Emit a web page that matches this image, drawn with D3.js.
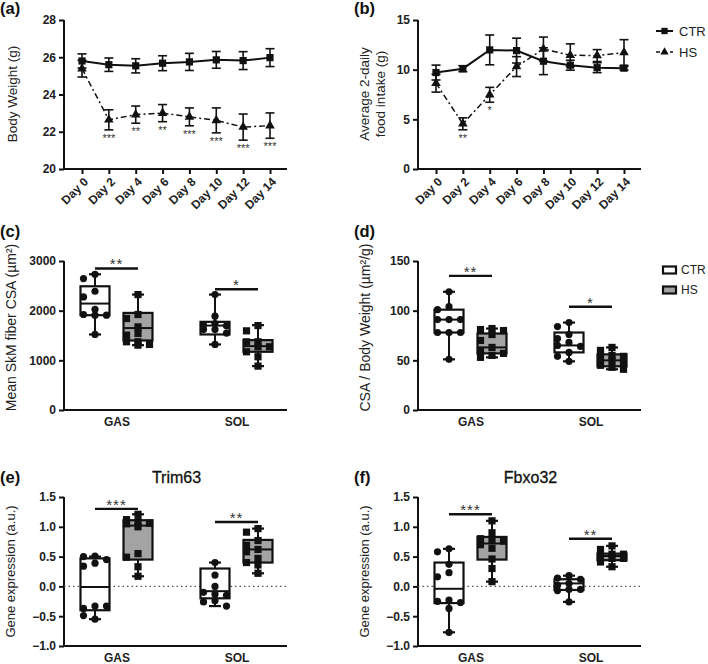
<!DOCTYPE html>
<html><head><meta charset="utf-8">
<script src="https://cdn.jsdelivr.net/npm/d3@7"></script>
<style>
body{margin:0;background:#fff}
svg{display:block}
text{font-family:"Liberation Sans",Arial,sans-serif}
</style>
</head><body>
<svg id="chart" width="708" height="664"></svg>
<script>
// ---------------- DATA ----------------
const days = ["Day 0","Day 2","Day 4","Day 6","Day 8","Day 10","Day 12","Day 14"];
const groups = ["CTR","HS"];
const muscles = ["GAS","SOL"];

// (a) Body weight (g), mean ± SEM
const bwCTR    = [25.80, 25.60, 25.54, 25.68, 25.75, 25.86, 25.82, 25.98];
const bwCTRerr = [0.38, 0.36, 0.38, 0.40, 0.46, 0.45, 0.48, 0.48];
const bwHS     = [25.39, 22.64, 22.92, 23.00, 22.80, 22.61, 22.25, 22.33];
const bwHSerr  = [0.45, 0.54, 0.46, 0.46, 0.48, 0.67, 0.70, 0.68];
const bwStars  = ["", "***", "**", "**", "***", "***", "***", "***"];
const bwTicks  = [20, 22, 24, 26, 28];

// (b) Average 2-daily food intake (g)
const fiCTR    = [9.71, 10.10, 11.99, 11.92, 10.85, 10.45, 10.20, 10.15];
const fiCTRerr = [0.75, 0.30, 1.50, 1.25, 1.35, 0.50, 0.50, 0.20];
const fiHS     = [8.64, 4.55, 7.47, 10.31, 12.08, 11.45, 11.42, 11.72];
const fiHSerr  = [0.90, 0.60, 0.75, 1.00, 1.20, 1.15, 0.60, 1.30];
const fiStars  = ["", "**", "*", "", "", "", "", ""];
const fiTicks  = [0, 5, 10, 15];

// (c) Mean SkM fiber CSA (µm²): individual points and box stats [min, q1, median, q3, max]
const csaGasCTR = [2733, 2646, 2391, 2277, 2029, 1923, 1909, 1909, 1521];
const csaGasHS  = [2324, 1923, 1842, 1674, 1541, 1507, 1374, 1374, 1320, 1306];
const csaSolCTR = [2324, 1889, 1742, 1708, 1694, 1620, 1620, 1548, 1320];
const csaSolHS  = [1700, 1594, 1373, 1373, 1273, 1273, 1172, 1072, 884];
const csaBoxGasCTR = [1521, 1909, 2143, 2491, 2733];
const csaBoxGasHS  = [1306, 1400, 1650, 1955, 2324];
const csaBoxSolCTR = [1320, 1521, 1700, 1775, 2324];
const csaBoxSolHS  = [884, 1172, 1286, 1407, 1708];
const csaSig   = [2850, 2430];
const csaSigLabels = ["**", "*"];
const csaTicks = [0, 1000, 2000, 3000];

// (d) CSA / Body weight (µm²/g)
const cbwGasCTR = [119, 104, 101, 91, 91, 91, 78, 78, 78, 51];
const cbwGasHS  = [82, 81, 80, 76, 70, 63, 60, 57, 55, 53];
const cbwSolCTR = [88, 84, 76, 72, 68, 65, 64, 58, 54, 49];
const cbwSolHS  = [63, 60, 55, 54, 52, 50, 46, 45, 43, 41];
const cbwBoxGasCTR = [51, 78, 91, 101, 119];
const cbwBoxGasHS  = [53, 57, 63, 77, 82];
const cbwBoxSolCTR = [49, 58, 65, 78, 88];
const cbwBoxSolHS  = [41, 44, 50, 56, 63];
const cbwSig   = [135, 104];
const cbwSigLabels = ["**", "*"];
const cbwTicks = [0, 50, 100, 150];

// (e) Trim63 gene expression (a.u.)
const trimGasCTR = [0.51, 0.50, 0.45, 0.39, 0.34, -0.33, -0.37, -0.33, -0.55, -0.49];
const trimGasHS  = [1.21, 1.12, 1.09, 1.06, 1.05, 1.00, 0.55, 0.49, 0.33, 0.17];
const trimSolCTR = [0.40, 0.19, 0.00, -0.10, -0.13, -0.15, -0.24, -0.26, -0.33];
const trimSolHS  = [0.97, 0.91, 0.77, 0.69, 0.62, 0.58, 0.47, 0.40, 0.36, 0.22];
const trimBoxGasCTR = [-0.55, -0.40, -0.01, 0.47, 0.50];
const trimBoxGasHS  = [0.17, 0.45, 1.02, 1.11, 1.21];
const trimBoxSolCTR = [-0.33, -0.20, -0.08, 0.30, 0.40];
const trimBoxSolHS  = [0.22, 0.40, 0.62, 0.78, 0.97];
const trimSig   = [1.30, 1.08];
const trimSigLabels = ["***", "**"];

// (f) Fbxo32 gene expression (a.u.)
const fbxGasCTR = [0.63, 0.58, 0.37, 0.23, 0.16, -0.23, -0.25, -0.27, -0.37, -0.77];
const fbxGasHS  = [1.10, 0.90, 0.80, 0.77, 0.76, 0.70, 0.64, 0.46, 0.30, 0.08];
const fbxSolCTR = [0.18, 0.14, 0.12, 0.05, 0.02, -0.05, -0.05, -0.07, -0.26];
const fbxSolHS  = [0.68, 0.62, 0.54, 0.54, 0.50, 0.47, 0.47, 0.41, 0.33];
const fbxBoxGasCTR = [-0.77, -0.28, -0.04, 0.40, 0.63];
const fbxBoxGasHS  = [0.08, 0.45, 0.72, 0.83, 1.10];
const fbxBoxSolCTR = [-0.26, -0.06, 0.05, 0.12, 0.18];
const fbxBoxSolHS  = [0.33, 0.44, 0.51, 0.55, 0.68];
const fbxSig   = [1.21, 0.80];
const fbxSigLabels = ["***", "**"];
const geneTicks = [-1.0, -0.5, 0.0, 0.5, 1.0, 1.5];

// ---------------- DRAWING ----------------
const svg = d3.select("#chart");
const PL = 64, PR = 287;           // plot left/right (panel-local)
const HS_FILL = "#a3a3a3";

function styleAxis(a) {
  a.select(".domain").attr("stroke", "#111").attr("stroke-width", 2);
  a.selectAll(".tick line").attr("stroke", "#111").attr("stroke-width", 2);
  a.selectAll(".tick text").attr("font-size", 12).attr("font-weight", "bold").attr("fill", "#222");
}

function yAxis(g, y, ticks, fmt) {
  const a = g.append("g").attr("transform", `translate(${PL},0)`)
    .call(d3.axisLeft(y).tickValues(ticks).tickSize(5).tickSizeOuter(0).tickFormat(fmt).tickPadding(3));
  styleAxis(a);
  a.select(".domain").attr("d", `M0,${y.range()[0] + 1}V${y.range()[1]}`);
}

function baseline(g, yPos) {
  g.append("line").attr("x1", PL - 1).attr("x2", PR).attr("y1", yPos).attr("y2", yPos)
    .attr("stroke", "#111").attr("stroke-width", 2);
}

function panelLetter(g, txt, y) {
  g.append("text").attr("x", 0).attr("y", y).attr("font-size", 16.5).attr("font-weight", "bold")
    .attr("fill", "#111").text(txt);
}

function yLabel(g, lines, cx, cy, size) {
  const t = g.append("text").attr("transform", `translate(${cx},${cy}) rotate(-90)`)
    .attr("text-anchor", "middle").attr("font-size", size).attr("fill", "#222");
  lines.forEach((l, i) => {
    t.append("tspan").attr("x", 0).attr("dy", i === 0 ? 0 : "1.15em").text(l);
  });
}

// ---------- line panels ----------
function linePanel(ox, cfg) {
  const g = svg.append("g").attr("transform", `translate(${ox},0)`);
  const y = d3.scaleLinear().domain(cfg.domain).range([169, 20]);
  const x = d3.scalePoint().domain(days).range([82, 270]);

  panelLetter(g, cfg.letter, 14);
  yAxis(g, y, cfg.ticks, d3.format("d"));
  baseline(g, 169);
  const xa = g.append("g").attr("transform", "translate(0,169)")
    .call(d3.axisBottom(x).tickSize(5).tickSizeOuter(0));
  styleAxis(xa);
  xa.select(".domain").remove();
  xa.selectAll(".tick text").attr("text-anchor", "end")
    .attr("transform", "rotate(-45)").attr("x", -5).attr("y", 10).attr("dy", "0.35em");

  yLabel(g, cfg.ylabel, cfg.ylabelX, 94, 13.5);

  const series = [
    {v: cfg.ctr, e: cfg.ctrErr, dash: null, w: 2, sym: d3.symbolSquare, size: 52},
    {v: cfg.hs, e: cfg.hsErr, dash: "6,3,2,3", w: 1.5, sym: d3.symbolTriangle, size: 40}
  ];
  [series[1], series[0]].forEach(s => {
    const line = d3.line().x((d, i) => x(days[i])).y(d => y(d));
    g.append("path").attr("d", line(s.v)).attr("fill", "none").attr("stroke", "#111")
      .attr("stroke-width", s.w).attr("stroke-dasharray", s.dash);
    s.v.forEach((v, i) => {
      const cx = x(days[i]);
      const top = y(v + s.e[i]), bot = y(v - s.e[i]);
      g.append("line").attr("x1", cx).attr("x2", cx).attr("y1", top).attr("y2", bot)
        .attr("stroke", "#111").attr("stroke-width", 1.6);
      [top, bot].forEach(yy => g.append("line").attr("x1", cx - 4.5).attr("x2", cx + 4.5)
        .attr("y1", yy).attr("y2", yy).attr("stroke", "#111").attr("stroke-width", 1.6));
      g.append("path").attr("d", d3.symbol(s.sym, s.size)())
        .attr("transform", `translate(${cx},${y(v)})`).attr("fill", "#111");
    });
  });
  cfg.stars.forEach((s, i) => {
    if (!s) return;
    g.append("text").attr("x", x(days[i])).attr("y", y(cfg.hs[i] - cfg.hsErr[i]) + 12)
      .attr("text-anchor", "middle").attr("font-size", 11).attr("fill", "#333").text(s);
  });
  return g;
}

linePanel(0, {letter: "(a)", domain: [20, 28], ticks: bwTicks, ctr: bwCTR, ctrErr: bwCTRerr,
  hs: bwHS, hsErr: bwHSerr, stars: bwStars, ylabel: ["Body Weight (g)"], ylabelX: 17});
const gb = linePanel(354, {letter: "(b)", domain: [0, 15], ticks: fiTicks, ctr: fiCTR, ctrErr: fiCTRerr,
  hs: fiHS, hsErr: fiHSerr, stars: fiStars, ylabel: ["Average 2-daily", "food intake (g)"], ylabelX: 15});

// legend (b)
[{name: "CTR", dash: null, sym: d3.symbolSquare, size: 40, w: 2},
 {name: "HS", dash: "4,3", sym: d3.symbolTriangle, size: 30, w: 1.5}].forEach((s, i) => {
  const ly = 31 + i * 21;
  gb.append("line").attr("x1", 302).attr("x2", 319).attr("y1", ly).attr("y2", ly)
    .attr("stroke", "#111").attr("stroke-width", s.w).attr("stroke-dasharray", s.dash);
  gb.append("path").attr("d", d3.symbol(s.sym, s.size)()).attr("transform", `translate(310.5,${ly})`).attr("fill", "#111");
  gb.append("text").attr("x", 325).attr("y", ly).attr("dy", "0.35em").attr("font-size", 13)
    .attr("fill", "#222").text(s.name);
});

// ---------- box panels ----------
// simple swarm: points stay in 3 columns inside the box
function swarm(vals, y, colW, minDy) {
  const placed = [];
  return vals.map(v => {
    const py = y(v);
    let best = 0, bestD = -1;
    for (const c of [0, -1, 1]) {
      const near = placed.filter(p => p.c === c).map(p => Math.abs(p.py - py));
      const d = near.length ? Math.min(...near) : Infinity;
      if (d >= minDy) { best = c; bestD = Infinity; break; }
      if (d > bestD) { bestD = d; best = c; }
    }
    placed.push({c: best, py});
    return {v, off: best * colW};
  });
}

function boxPanel(ox, cfg) {
  const g = svg.append("g").attr("transform", `translate(${ox},0)`);
  const y = d3.scaleLinear().domain(cfg.domain).range([cfg.bottom, cfg.top]);
  const xm = d3.scalePoint().domain(muscles).range([117, 237]);
  const xg = d3.scalePoint().domain(groups).range([-22, 21]);

  panelLetter(g, cfg.letter, cfg.letterY);
  yAxis(g, y, cfg.ticks, cfg.fmt);
  baseline(g, cfg.bottom);
  yLabel(g, [cfg.ylabel], cfg.ylabelX, (cfg.top + cfg.bottom) / 2 - cfg.ylabelShift, cfg.ylabelSize);

  if (cfg.title) {
    g.append("text").attr("x", (PL + PR) / 2 + 1).attr("y", cfg.top - 14).attr("text-anchor", "middle")
      .attr("font-size", 16).attr("fill", "#111").attr("stroke", "#111").attr("stroke-width", 0.3)
      .text(cfg.title);
  }
  if (cfg.zeroLine) {
    g.append("line").attr("x1", PL).attr("x2", PR).attr("y1", y(0)).attr("y2", y(0))
      .attr("stroke", "#555").attr("stroke-width", 1.3).attr("stroke-dasharray", "1.5,3");
  }
  muscles.forEach(m => {
    g.append("text").attr("x", xm(m)).attr("y", cfg.bottom + 16).attr("text-anchor", "middle")
      .attr("font-size", 12).attr("font-weight", "bold").attr("fill", "#222").text(m);
  });

  const BW = 29, CAP = 12;
  muscles.forEach((m, mi) => {
    groups.forEach((gr, gi) => {
      const stats = cfg.boxes[mi][gi];
      const pts = cfg.points[mi][gi];
      const cx = xm(m) + xg(gr);
      const [mn, q1, md, q3, mx] = stats;
      g.append("line").attr("x1", cx).attr("x2", cx).attr("y1", y(mx)).attr("y2", y(mn))
        .attr("stroke", "#111").attr("stroke-width", 2);
      [mn, mx].forEach(v => g.append("line").attr("x1", cx - CAP / 2).attr("x2", cx + CAP / 2)
        .attr("y1", y(v)).attr("y2", y(v)).attr("stroke", "#111").attr("stroke-width", 2.2));
      g.append("rect").attr("x", cx - BW / 2).attr("width", BW).attr("y", y(q3))
        .attr("height", y(q1) - y(q3)).attr("fill", gi === 0 ? "#fff" : HS_FILL)
        .attr("stroke", "#111").attr("stroke-width", 2.2);
      g.append("line").attr("x1", cx - BW / 2).attr("x2", cx + BW / 2).attr("y1", y(md)).attr("y2", y(md))
        .attr("stroke", "#111").attr("stroke-width", 2);
      swarm(pts, y, 11.5, 6).forEach(p => {
        if (gi === 0) {
          g.append("circle").attr("cx", cx + p.off).attr("cy", y(p.v)).attr("r", 3.6).attr("fill", "#111");
        } else {
          g.append("rect").attr("x", cx + p.off - 3.6).attr("y", y(p.v) - 3.6)
            .attr("width", 7.2).attr("height", 7.2).attr("fill", "#111");
        }
      });
    });
    const sy = y(cfg.sig[mi]);
    const x1 = xm(m) + xg("CTR"), x2 = xm(m) + xg("HS");
    g.append("line").attr("x1", x1).attr("x2", x2).attr("y1", sy).attr("y2", sy)
      .attr("stroke", "#111").attr("stroke-width", 2.4);
    g.append("text").attr("x", (x1 + x2) / 2).attr("y", sy + 1).attr("text-anchor", "middle")
      .attr("font-size", 15).attr("letter-spacing", 1).attr("fill", "#333").text(cfg.sigLabels[mi]);
  });
  return g;
}

boxPanel(0, {letter: "(c)", letterY: 237, top: 261, bottom: 410, domain: [0, 3000], ticks: csaTicks,
  fmt: d3.format("d"), ylabel: "Mean SkM fiber CSA  (µm²)", ylabelX: 16, ylabelShift: 8, ylabelSize: 14,
  boxes: [[csaBoxGasCTR, csaBoxGasHS], [csaBoxSolCTR, csaBoxSolHS]],
  points: [[csaGasCTR, csaGasHS], [csaSolCTR, csaSolHS]], sig: csaSig, sigLabels: csaSigLabels});

const gd = boxPanel(354, {letter: "(d)", letterY: 237, top: 261, bottom: 410, domain: [0, 150], ticks: cbwTicks,
  fmt: d3.format("d"), ylabel: "CSA / Body Weight  (µm²/g)", ylabelX: 16, ylabelShift: 8, ylabelSize: 14,
  boxes: [[cbwBoxGasCTR, cbwBoxGasHS], [cbwBoxSolCTR, cbwBoxSolHS]],
  points: [[cbwGasCTR, cbwGasHS], [cbwSolCTR, cbwSolHS]], sig: cbwSig, sigLabels: cbwSigLabels});

// legend (d)
groups.forEach((gr, i) => {
  const ly = 270 + i * 20;
  gd.append("rect").attr("x", 309).attr("y", ly - 3.5).attr("width", 13).attr("height", 7)
    .attr("fill", i === 0 ? "#fff" : HS_FILL).attr("stroke", "#111").attr("stroke-width", 2.2);
  gd.append("text").attr("x", 327).attr("y", ly).attr("dy", "0.35em").attr("font-size", 12)
    .attr("fill", "#222").text(gr);
});

boxPanel(0, {letter: "(e)", letterY: 483, top: 497, bottom: 646, domain: [-1, 1.5], ticks: geneTicks,
  fmt: d3.format(".1f"), ylabel: "Gene expression (a.u.)", ylabelX: 15, ylabelShift: 0, ylabelSize: 13,
  zeroLine: true, title: "Trim63",
  boxes: [[trimBoxGasCTR, trimBoxGasHS], [trimBoxSolCTR, trimBoxSolHS]],
  points: [[trimGasCTR, trimGasHS], [trimSolCTR, trimSolHS]], sig: trimSig, sigLabels: trimSigLabels});

boxPanel(354, {letter: "(f)", letterY: 483, top: 497, bottom: 646, domain: [-1, 1.5], ticks: geneTicks,
  fmt: d3.format(".1f"), ylabel: "Gene expression (a.u.)", ylabelX: 15, ylabelShift: 0, ylabelSize: 13,
  zeroLine: true, title: "Fbxo32",
  boxes: [[fbxBoxGasCTR, fbxBoxGasHS], [fbxBoxSolCTR, fbxBoxSolHS]],
  points: [[fbxGasCTR, fbxGasHS], [fbxSolCTR, fbxSolHS]], sig: fbxSig, sigLabels: fbxSigLabels});
</script>
</body></html>
